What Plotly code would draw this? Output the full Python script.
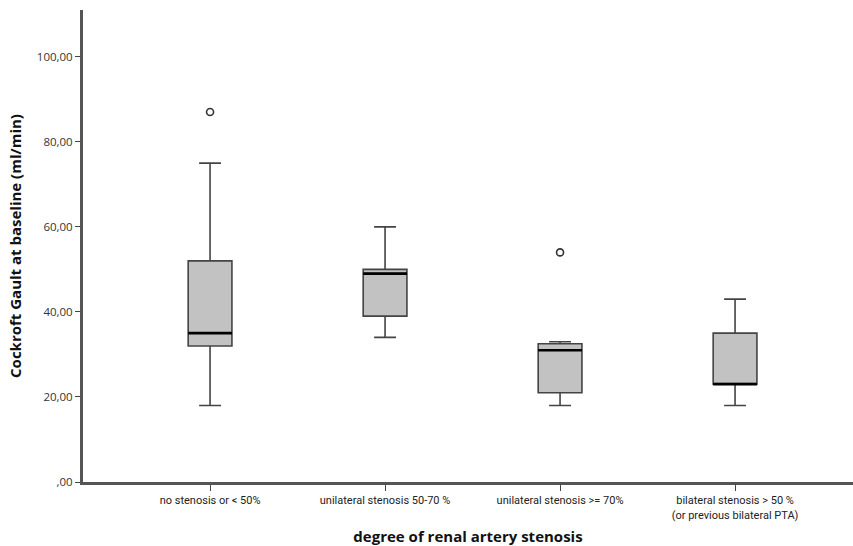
import plotly.graph_objects as go

categories = ["no stenosis or < 50%", "unilateral stenosis 50-70 %",
              "unilateral stenosis >= 70%",
              "bilateral stenosis > 50 %<br>(or previous bilateral PTA)"]
positions = [0, 1, 2, 3]
lower_whisker = [18, 34, 18, 18]
q1 = [32, 39, 21, 23]
median = [35, 49, 31, 23]
q3 = [52, 50, 32.5, 35]
upper_whisker = [75, 60, 33, 43]
outlier_pos = [0, 2]
outlier_val = [87, 54]
y_ticks = [0, 20, 40, 60, 80, 100]
y_tick_labels = [",00", "20,00", "40,00", "60,00", "80,00", "100,00"]

box_w = 0.25
fig = go.Figure()
fig.add_trace(go.Box(
    x=positions, q1=q1, median=median, q3=q3,
    lowerfence=lower_whisker, upperfence=upper_whisker,
    width=box_w, whiskerwidth=0.5, boxpoints=False,
    fillcolor="#c2c2c2", line=dict(color="#444444", width=1.6),
    showlegend=False,
))
for p, m in zip(positions, median):
    fig.add_trace(go.Scatter(
        x=[p - box_w / 2, p + box_w / 2], y=[m, m], mode="lines",
        line=dict(color="#000000", width=2.6), showlegend=False, hoverinfo="skip"))
fig.add_trace(go.Scatter(
    x=outlier_pos, y=outlier_val, mode="markers",
    marker=dict(symbol="circle-open", size=7, color="#333333", line=dict(width=1.6)),
    showlegend=False))

fig.update_layout(
    width=853, height=546,
    margin=dict(l=83, r=0, t=10, b=60),
    plot_bgcolor="white", paper_bgcolor="white",
    font=dict(family="Open Sans", color="#222222"),
    xaxis=dict(
        range=[-0.726, 3.674], tickvals=positions, ticktext=categories,
        showgrid=False, zeroline=False, showline=True, linecolor="#555555", linewidth=3,
        ticks="outside", ticklen=6, tickcolor="#444444", tickwidth=1.2,
        tickfont=dict(family="Roboto", size=11, color="#222222"),
        title=dict(text="<b>degree of renal artery stenosis</b>", font=dict(size=15, color="#111111"), standoff=14),
    ),
    yaxis=dict(
        range=[0, 111], tickvals=y_ticks, ticktext=y_tick_labels,
        showgrid=False, zeroline=False, showline=True, linecolor="#555555", linewidth=3,
        ticks="outside", ticklen=5, tickcolor="#444444", tickwidth=1.2,
        tickfont=dict(size=11.5, color="#333333"),
        title=dict(text="<b>Cockroft Gault at baseline (ml/min)</b>", font=dict(size=15, color="#111111"), standoff=12),
    ),
)
fig.write_html("out.html")
